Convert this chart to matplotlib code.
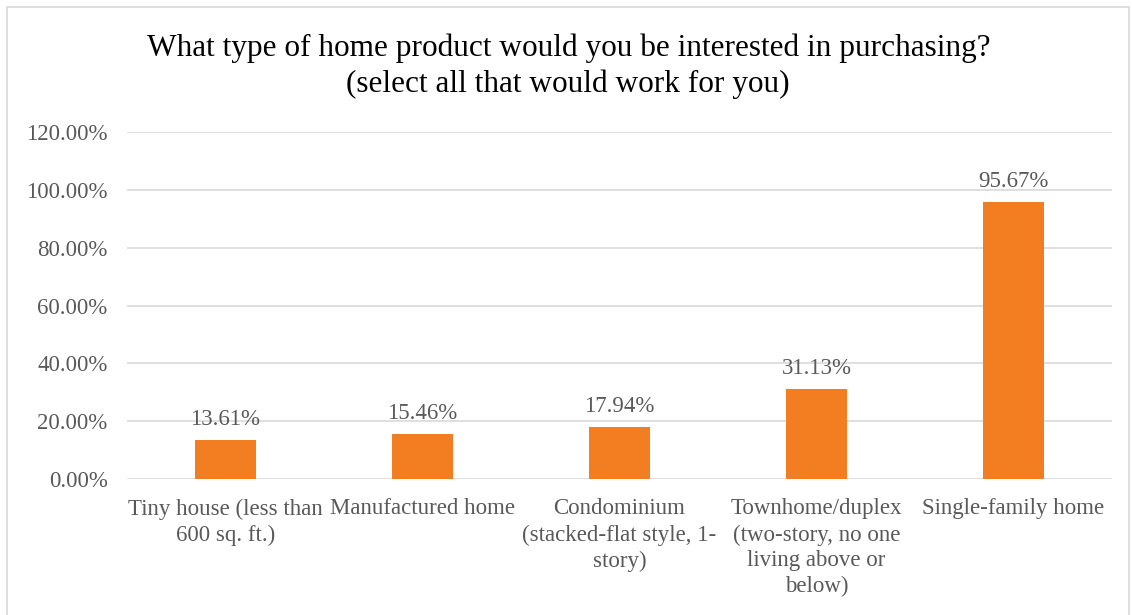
import matplotlib.pyplot as plt
from matplotlib.patches import Rectangle
from matplotlib.ticker import FuncFormatter

# Survey answers
categories = ['Tiny house (less than\n600 sq. ft.)',
              'Manufactured home',
              'Condominium\n(stacked-flat style, 1-\nstory)',
              'Townhome/duplex\n(two-story, no one\nliving above or\nbelow)',
              'Single-family home']
shares = [0.1361, 0.1546, 0.1794, 0.3113, 0.9567]
yticks = [0.0, 0.2, 0.4, 0.6, 0.8, 1.0, 1.2]

plt.rcParams['font.family'] = ['Liberation Serif', 'DejaVu Serif']

fig = plt.figure(figsize=(11.32, 6.15), dpi=100)
ax = fig.add_axes([0.1122, 0.2211, 0.870, 0.5642])

x = range(len(categories))
bars = ax.bar(x, shares, width=0.31, color='#F37E22', zorder=3)

# Value labels above each bar
for b, v in zip(bars, shares):
    ax.text(b.get_x() + b.get_width() / 2, v + 0.035, f'{v * 100:.2f}%',
            ha='center', va='bottom', fontsize=16.5, color='#595959')

ax.set_xlim(-0.5, len(categories) - 0.5)
ax.set_ylim(0, 1.2)
ax.set_yticks(yticks)
ax.yaxis.set_major_formatter(FuncFormatter(lambda v, p: f'{v * 100:.2f}%'))
ax.set_xticks(list(x))
ax.set_xticklabels(categories, fontsize=16.5, color='#595959', linespacing=1.3, va='top')
ax.tick_params(axis='y', labelsize=16.5, labelcolor='#595959', length=0, pad=14)
ax.tick_params(axis='x', length=0, pad=14)
ax.grid(axis='y', color='#D9D9D9', linewidth=1.2, zorder=0)
for s in ax.spines.values():
    s.set_visible(False)

fig.text(0.502, 0.892, 'What type of home product would you be interested in purchasing?\n(select all that would work for you)',
         ha='center', va='center', fontsize=22.5, color='#000000', linespacing=1.3)

# Light chart border
fig.patches.append(Rectangle((7 / 1132, -0.01), 1122 / 1132, 1 - 7 / 615 + 0.01,
                             transform=fig.transFigure, fill=False,
                             edgecolor='#D9D9D9', linewidth=1.2))

fig.savefig('out.png', dpi=100, facecolor='white')
